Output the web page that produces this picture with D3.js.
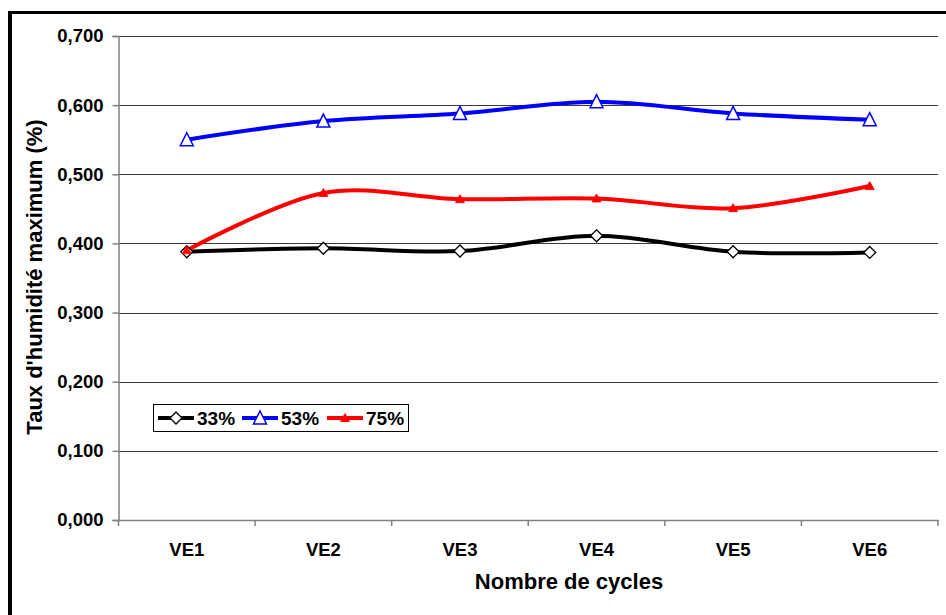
<!DOCTYPE html>
<html><head><meta charset="utf-8">
<script src="https://cdn.jsdelivr.net/npm/d3@7/dist/d3.min.js"></script>
<style>
html,body{margin:0;padding:0;background:#fff;}
text{font-family:"Liberation Sans",Arial,sans-serif;font-weight:bold;fill:#000;}
</style></head>
<body>
<svg id="chart" width="946" height="615"></svg>
<script>
const categories = ["VE1","VE2","VE3","VE4","VE5","VE6"];
const seriesNames = ["33%","53%","75%"];
const values33 = [0.388,0.393,0.389,0.411,0.388,0.387];
const values53 = [0.550,0.577,0.588,0.605,0.588,0.579];
const values75 = [0.390,0.473,0.464,0.465,0.451,0.483];
const yTicks = [0,0.1,0.2,0.3,0.4,0.5,0.6,0.7];
const xTitle = "Nombre de cycles";
const yTitle = "Taux d'humidité maximum (%)";

const svg = d3.select("#chart");
const L = 118.5, R = 938, T = 36, B = 520;

// frame
svg.append("line").attr("x1",8).attr("x2",946).attr("y1",12.5).attr("y2",12.5).attr("stroke","#000").attr("stroke-width",3);
svg.append("line").attr("x1",10).attr("x2",10).attr("y1",11).attr("y2",615).attr("stroke","#000").attr("stroke-width",4);

const x = d3.scaleBand().domain(categories).range([L,R]);
const y = d3.scaleLinear().domain([0,0.7]).range([B,T]);
const fmt = d => d3.format(".3f")(d).replace(".",",");

// gridlines
svg.append("g").selectAll("line").data(yTicks.filter(d=>d>0)).join("line")
  .attr("x1",L).attr("x2",R).attr("y1",d=>Math.round(y(d))+0.5).attr("y2",d=>Math.round(y(d))+0.5)
  .attr("stroke","#3a3a3a").attr("stroke-width",1.2);

// y axis
const ya = svg.append("g").attr("transform",`translate(${L},0)`)
  .call(d3.axisLeft(y).tickValues(yTicks).tickFormat(fmt).tickSize(6).tickPadding(9));
ya.select(".domain").attr("stroke","#808080").attr("stroke-width",1.5);
ya.selectAll(".tick line").attr("stroke","#808080").attr("stroke-width",1.5);
ya.selectAll(".tick text").style("font-size","18.5px").style("font-family","'Liberation Sans',Arial,sans-serif").style("font-weight","bold").attr("fill","#000");

// x axis
const xa = svg.append("g").attr("transform",`translate(0,${B})`)
  .call(d3.axisBottom(x).tickSize(0).tickPadding(23));
xa.select(".domain").attr("stroke","#808080").attr("stroke-width",1.5);
xa.selectAll(".tick text").style("font-size","18.5px").style("font-family","'Liberation Sans',Arial,sans-serif").style("font-weight","bold").attr("fill","#000");
// boundary ticks between categories
const bounds = categories.map(c=>x(c)).concat([x(categories[categories.length-1])+x.bandwidth()]);
svg.append("g").selectAll("line").data(bounds).join("line")
  .attr("x1",d=>d).attr("x2",d=>d).attr("y1",B).attr("y2",B+6)
  .attr("stroke","#808080").attr("stroke-width",1.5);

// titles
svg.append("text").attr("x",569).attr("y",589).attr("text-anchor","middle").style("font-size","22px").text(xTitle);
svg.append("text").attr("transform","translate(42,277) rotate(-90)").attr("text-anchor","middle").style("font-size","22px").text(yTitle);

const cx = c => x(c) + x.bandwidth()/2;
const line = d3.line().x((d,i)=>cx(categories[i])).y(d=>y(d)).curve(d3.curveCardinal.tension(0));

const series = [
  {name:seriesNames[0], vals:values33, color:"#000000", marker:"diamond"},
  {name:seriesNames[1], vals:values53, color:"#0000ff", marker:"triOpen"},
  {name:seriesNames[2], vals:values75, color:"#ff0000", marker:"triFill"}
];

function drawMarker(g, type, color, px, py){
  if(type==="diamond"){
    g.append("path").attr("d",`M${px},${py-6}L${px+6},${py}L${px},${py+6}L${px-6},${py}Z`)
      .attr("fill","#fff").attr("stroke","#000").attr("stroke-width",1.3);
  } else if(type==="triOpen"){
    g.append("path").attr("d",`M${px},${py-7}L${px+6.5},${py+6}L${px-6.5},${py+6}Z`)
      .attr("fill","#fff").attr("stroke",color).attr("stroke-width",1.5);
  } else {
    g.append("path").attr("d",`M${px},${py-4.5}L${px+4.5},${py+3.5}L${px-4.5},${py+3.5}Z`)
      .attr("fill",color).attr("stroke",color).attr("stroke-width",0.8);
  }
}

// draw order: 53%, 75%, 33% lines? Excel draws in series order
series.forEach(s=>{
  svg.append("path").datum(s.vals).attr("d",line).attr("fill","none")
    .attr("stroke",s.color).attr("stroke-width",4).attr("stroke-linejoin","round");
});
series.forEach(s=>{
  const g = svg.append("g");
  s.vals.forEach((v,i)=>drawMarker(g, s.marker, s.color, cx(categories[i]), y(v)));
});

// legend
const lg = svg.append("g");
lg.append("rect").attr("x",153.5).attr("y",404.5).attr("width",255).attr("height",27)
  .attr("fill","#fff").attr("stroke","#000").attr("stroke-width",1);
const legX = [158, 242, 327];
series.forEach((s,i)=>{
  const x0 = legX[i], ly = 418;
  lg.append("line").attr("x1",x0).attr("x2",x0+36).attr("y1",ly).attr("y2",ly)
    .attr("stroke",s.color).attr("stroke-width",4);
  drawMarker(lg, s.marker, s.color, x0+18, ly);
  lg.append("text").attr("x",x0+39).attr("y",ly+7).style("font-size","19px").text(s.name);
});
</script>
</body></html>
